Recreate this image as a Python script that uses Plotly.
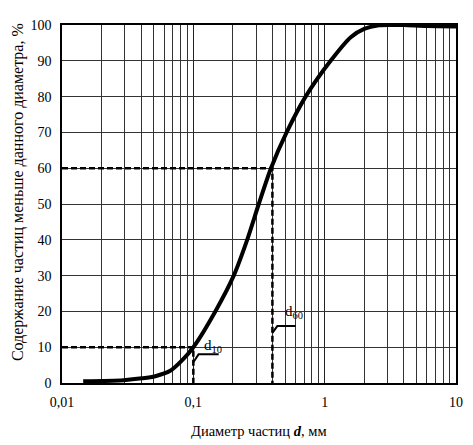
import plotly.graph_objects as go

# Grain-size distribution curve
diam_mm = [0.0145, 0.0294, 0.0406, 0.0513, 0.0667, 0.082, 0.1, 0.147, 0.203,
           0.257, 0.315, 0.39, 0.513, 0.716, 1.11, 1.58, 2.0, 2.6, 3.2, 4.0, 6.0, 10.0]
passing_pct = [0.5, 0.8, 1.3, 1.9, 3.4, 6.3, 10, 20, 30,
               40, 50, 60, 70, 80, 90, 96.6, 98.9, 99.9, 100, 100, 99.7, 99.6]

d10 = 0.1
d60 = 0.4
p10 = 10
p60 = 60

x_tickvals = [0.01, 0.1, 1, 10]
x_ticktext = ["0,01", "0,1", "1", "10"]
y_tickvals = [0, 10, 20, 30, 40, 50, 60, 70, 80, 90, 100]

FONT = "Liberation Serif"

fig = go.Figure()

dash_style = dict(color="black", width=2.5, dash="6px,3px")
# d10 guide lines
fig.add_trace(go.Scatter(x=[x_tickvals[0], d10, d10], y=[p10, p10, 0],
                         mode="lines", line=dash_style, hoverinfo="skip"))
# d60 guide lines
fig.add_trace(go.Scatter(x=[x_tickvals[0], d60, d60], y=[p60, p60, 0],
                         mode="lines", line=dash_style, hoverinfo="skip"))

# curve
fig.add_trace(go.Scatter(x=diam_mm, y=passing_pct, mode="lines",
                         line=dict(color="black", width=4, shape="spline", smoothing=0.8),
                         hoverinfo="skip"))

# label leaders
fig.add_trace(go.Scatter(x=[d10, d10 * 1.096, d10 * 1.56], y=[5.8, 8.0, 8.0],
                         mode="lines", line=dict(color="black", width=2), hoverinfo="skip"))
fig.add_trace(go.Scatter(x=[d60, d60 * 1.09, d60 * 1.50], y=[14.0, 15.9, 15.9],
                         mode="lines", line=dict(color="black", width=2), hoverinfo="skip"))

annotations = [
    dict(x=-0.935, y=10.3, xref="x", yref="y", text="d<sub>10</sub>", showarrow=False,
         xanchor="left", yanchor="middle", font=dict(family=FONT, size=15, color="black")),
    dict(x=-0.32, y=19.8, xref="x", yref="y", text="d<sub>60</sub>", showarrow=False,
         xanchor="left", yanchor="middle", font=dict(family=FONT, size=15, color="black")),
    dict(x=0.5, y=-0.134, xref="paper", yref="paper",
         text="Диаметр частиц <b><i>d</i></b>, мм", showarrow=False,
         xanchor="center", yanchor="middle", font=dict(family=FONT, size=14.5, color="black")),
    dict(x=-0.111, y=0.534, xref="paper", yref="paper",
         text="Содержание частиц меньше данного диаметра, %", showarrow=False, textangle=-90,
         xanchor="center", yanchor="middle", font=dict(family=FONT, size=16, color="black")),
]

# page has an 8px body margin, so the figure is sized to fit the 473x445 window
fig.update_layout(
    width=465, height=437,
    margin=dict(l=54, r=17, t=10, b=62),
    paper_bgcolor="white", plot_bgcolor="white",
    showlegend=False,
    font=dict(family=FONT, size=14, color="black"),
    annotations=annotations,
)

fig.update_xaxes(
    type="log", range=[-2, 1],
    tickvals=x_tickvals, ticktext=x_ticktext,
    showgrid=True, gridcolor="#222", gridwidth=1,
    minor=dict(dtick="D1", showgrid=True, gridcolor="#333", gridwidth=1, ticks=""),
    showline=True, linecolor="black", linewidth=1.5, mirror=True,
    ticks="", ticklabelstandoff=5, tickfont=dict(family=FONT, size=14, color="black"),
    zeroline=False,
)
fig.update_yaxes(
    range=[0, 100], tickvals=y_tickvals,
    showgrid=True, gridcolor="#333", gridwidth=1,
    showline=True, linecolor="black", linewidth=1.5, mirror=True,
    ticks="", ticklabelstandoff=6, tickfont=dict(family=FONT, size=14, color="black"),
    zeroline=False,
)

fig.write_html("out.html")
